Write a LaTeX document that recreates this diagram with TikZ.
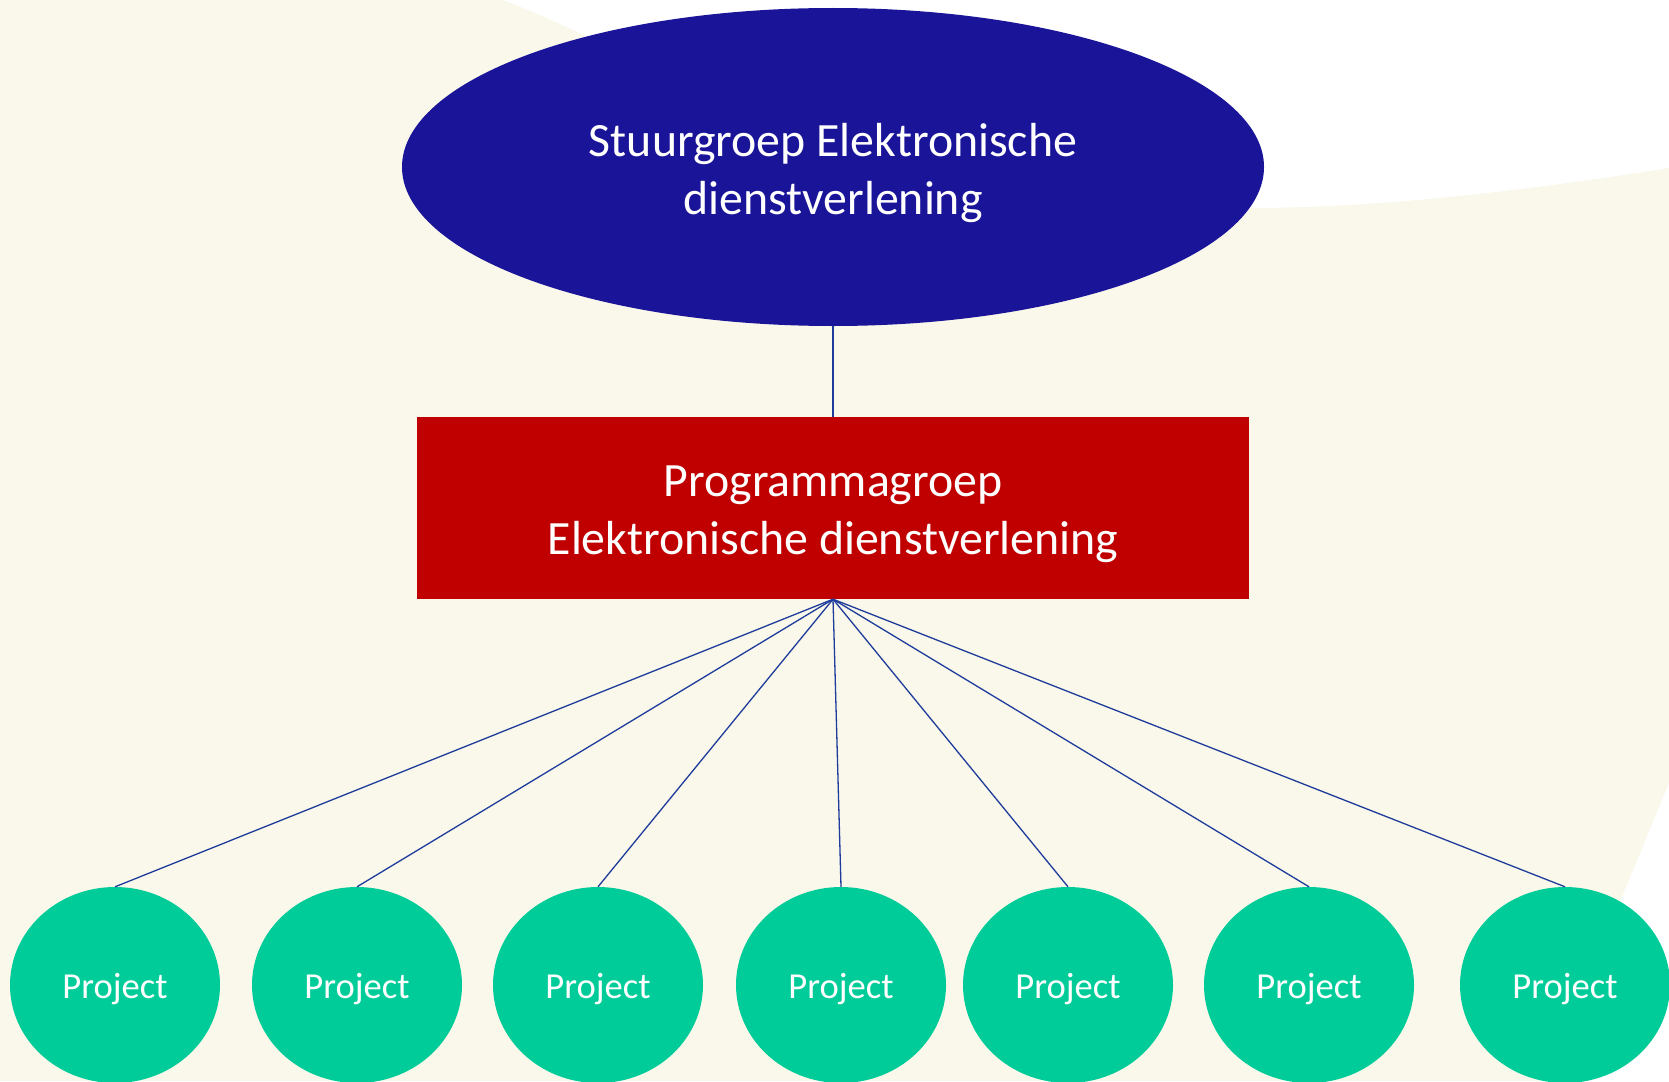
\documentclass[tikz,border=0pt]{standalone}
\usepackage{fontspec}
\setmainfont{Carlito}
\usetikzlibrary{shapes.geometric}
\definecolor{cream}{HTML}{F9F8EA}
\definecolor{navy}{HTML}{1A1499}
\definecolor{redbox}{HTML}{C00000}
\definecolor{projgreen}{HTML}{00CC99}
\definecolor{linkblue}{HTML}{1F3C9C}
\tikzset{
  bigtext/.style={text=white, align=center, font=\fontsize{47.8}{57.5}\selectfont, inner sep=0pt},
  smalltext/.style={text=white, font=\fontsize{36.6}{44}\selectfont, inner sep=0pt},
  topnode/.style={ellipse, fill=navy, inner sep=0pt, minimum width=862pt, minimum height=318pt},
  boxnode/.style={rectangle, fill=redbox, inner sep=0pt, minimum width=832pt, minimum height=182pt},
  projnode/.style={ellipse, fill=projgreen, inner sep=0pt, minimum width=210pt, minimum height=196pt},
  mainlink/.style={draw=linkblue, line width=2pt},
  fanlink/.style={draw=linkblue, line width=1.3pt}
}
\begin{document}
\begin{tikzpicture}[x=1pt, y=-1pt]
  % background
  \fill[cream] (0,0) rectangle (1669,1081);
  \useasboundingbox (0,0) rectangle (1669,1081);
  \fill[white] (503,0) -- (1669,0) -- (1669,168)
     .. controls (1480,198) and (1350,208) .. (1250,208)
     -- (1150,230) -- (833,167) -- (620,55) -- (590,38)
     .. controls (560,24) and (535,12) .. (503,0) -- cycle;
  \fill[white] (1669,783) -- (1622,897) -- (1546,1081) -- (1669,1081) -- cycle;
  % nodes
  \node[topnode, label={[bigtext, yshift=-6pt]center:Stuurgroep Elektronische\\dienstverlening}] (top) at (833,167) {};
  \node[boxnode, label={[bigtext, yshift=-6.5pt]center:Programmagroep\\Elektronische dienstverlening}] (prog) at (833,508) {};
  \foreach \n/\x in {p1/115,p2/357,p3/598,p4/841,p5/1068,p6/1309,p7/1565}
    \node[projnode, label={[smalltext, yshift=-4pt]center:Project}] (\n) at (\x,985) {};
  % connectors
  \draw[mainlink] (top.south) -- (prog.north);
  \foreach \p in {p1,p2,p3,p4,p5,p6,p7}
    \draw[fanlink] (prog.south) -- (\p.north);
\end{tikzpicture}
\end{document}
